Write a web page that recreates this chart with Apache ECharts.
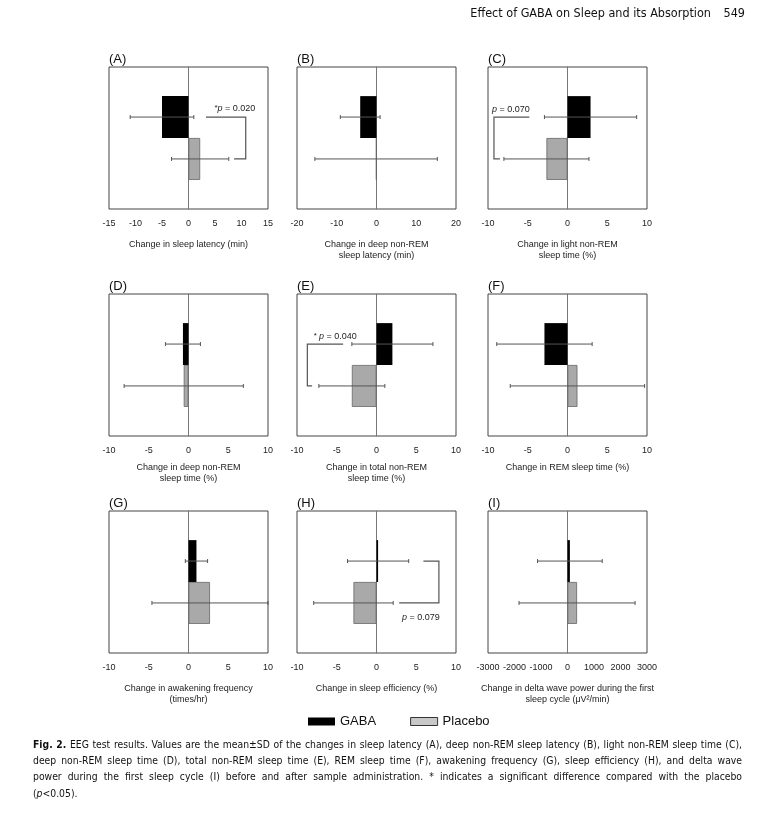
<!DOCTYPE html>
<html><head><meta charset="utf-8">
<script src="https://cdn.jsdelivr.net/npm/echarts@6/dist/echarts.min.js"></script>
<style>html,body{margin:0;padding:0;background:#fff}#c{width:768px;height:817px}</style>
</head><body><div id="c"></div>
<script>
// ---------------- data ----------------
const panelLabels = ['(A)','(B)','(C)','(D)','(E)','(F)','(G)','(H)','(I)'];
const axisNames = [
  'Change in sleep latency (min)',
  'Change in deep non-REM\nsleep latency (min)',
  'Change in light non-REM\nsleep time (%)',
  'Change in deep non-REM\nsleep time (%)',
  'Change in total non-REM\nsleep time (%)',
  'Change in REM sleep time (%)',
  'Change in awakening frequency\n(times/hr)',
  'Change in sleep efficiency (%)',
  'Change in delta wave power during the first\nsleep cycle (\u03bcV\u00b2/min)'
];
const axisMin = [-15, -20, -10, -10, -10, -10, -10, -10, -3000];
const axisMax = [15, 20, 10, 10, 10, 10, 10, 10, 3000];
const axisInterval = [5, 10, 5, 5, 5, 5, 5, 5, 1000];
const groups = ['GABA', 'Placebo'];
const gabaMean = [-5.0, -4.1, 2.9, -0.7, 2.0, -2.9, 1.0, 0.2, 90];
const gabaSD = [6.0, 5.0, 5.8, 2.2, 5.1, 6.0, 1.4, 3.85, 1220];
const placeboMean = [2.2, -0.1, -2.65, -0.6, -3.1, 1.25, 2.7, -2.9, 360];
const placeboSD = [5.4, 15.4, 5.35, 7.5, 4.15, 8.45, 7.3, 5.0, 2190];
// significance brackets (x in data units of each panel)
const bracketPanel = [0, 2, 4, 7];
const bracketTopX = [3.3, -4.8, -4.2, 5.9];
const bracketBottomX = [8.6, -8.5, -8.1, 2.85];
const bracketSpineX = [10.8, -9.25, -8.7, 7.85];
const pStar = ['*', '', '* ', ''];
const pValue = ['0.020', '0.070', '0.040', '0.079'];
const pTextX = [4.9, -9.5, -7.9, 3.2];
const headerTitle = 'Effect of GABA on Sleep and its Absorption';
const headerPage = '549';
const captionLines = [
  'Fig. 2. EEG test results. Values are the mean\u00b1SD of the changes in sleep latency (A), deep non-REM sleep latency (B), light non-REM sleep time (C),',
  'deep non-REM sleep time (D), total non-REM sleep time (E), REM sleep time (F), awakening frequency (G), sleep efficiency (H), and delta wave',
  'power during the first sleep cycle (I) before and after sample administration. * indicates a significant difference compared with the placebo'
];
// ---------------- layout ----------------
const FONT = '"Liberation Sans", Arial, Helvetica, sans-serif';
const CAPFONT = '"Liberation Sans Narrow", "DejaVu Sans Condensed", "Liberation Sans", sans-serif';
const colLeft = [109, 297, 488], rowTop = [67, 294, 511];
const gw = 159, gh = 142;
const nameGaps = [30, 26, 30];
const pTextDy = [-9, -8, -8, 15];
const CAT = 'd';
const GAP = 0.41;

function bandY(api, k) {
  const c = api.coord([0, CAT]);
  const band = api.size([0, 1])[1];
  const bw = band * (1 - GAP) / 2;
  return c[1] + (k === 0 ? -bw / 2 : bw / 2);
}
function errRender(params, api) {
  const lo = api.value(1), hi = api.value(2), k = api.value(4);
  const y = bandY(api, k);
  const x1 = api.coord([lo, CAT])[0], x2 = api.coord([hi, CAT])[0];
  const st = { stroke: '#555', lineWidth: 1 };
  const cap = 2;
  return { type: 'group', children: [
    { type: 'line', shape: { x1: x1, y1: y, x2: x2, y2: y }, style: st },
    { type: 'line', shape: { x1: x1, y1: y - cap, x2: x1, y2: y + cap }, style: st },
    { type: 'line', shape: { x1: x2, y1: y - cap, x2: x2, y2: y + cap }, style: st }
  ]};
}
function bracketRender(params, api) {
  const b = api.value(5);
  const yT = bandY(api, 0), yB = bandY(api, 1);
  const xt = api.coord([api.value(0), CAT])[0];
  const xb = api.coord([api.value(1), CAT])[0];
  const xs = api.coord([api.value(2), CAT])[0];
  const xtx = api.coord([api.value(3), CAT])[0];
  const ty = (pTextDy[b] < 0 ? yT : yB) + pTextDy[b];
  return { type: 'group', children: [
    { type: 'polyline', shape: { points: [[xt, yT], [xs, yT], [xs, yB], [xb, yB]] },
      style: { stroke: '#555', lineWidth: 1.2, fill: null } },
    { type: 'text', x: xtx, y: ty, style: {
      text: '{s|' + pStar[b] + '}{i|p} = ' + pValue[b],
      rich: { s: { fontSize: 8, fontFamily: FONT, fill: '#222' }, i: { fontStyle: 'italic', fontSize: 9, fontFamily: FONT, fill: '#222' } },
      fontSize: 9, fontFamily: FONT, fill: '#222', align: 'left', verticalAlign: 'middle' } }
  ]};
}

const grids = [], xAxes = [], yAxes = [], series = [], titles = [];
for (let i = 0; i < 9; i++) {
  const r = Math.floor(i / 3), c = i % 3;
  grids.push({ left: colLeft[c], top: rowTop[r], width: gw, height: gh, show: true,
    borderColor: '#444', borderWidth: 1, backgroundColor: 'transparent' });
  xAxes.push({ gridIndex: i, type: 'value', min: axisMin[i], max: axisMax[i], interval: axisInterval[i],
    splitLine: { show: false }, axisLine: { show: false }, axisTick: { show: false },
    axisLabel: { fontFamily: FONT, fontSize: 9, color: '#222', margin: 10, formatter: v => String(v) },
    name: axisNames[i], nameLocation: 'middle', nameGap: nameGaps[r],
    nameTextStyle: { fontFamily: FONT, fontSize: 9, color: '#222', lineHeight: 11 } });
  yAxes.push({ gridIndex: i, type: 'category', data: [CAT],
    axisLine: { show: true, onZero: true, lineStyle: { color: '#777', width: 1 } },
    axisTick: { show: false }, axisLabel: { show: false }, splitLine: { show: false } });
  series.push({ type: 'bar', name: groups[0], xAxisIndex: i, yAxisIndex: i, data: [gabaMean[i]],
    barGap: '0%', barCategoryGap: (GAP * 100) + '%', itemStyle: { color: '#000' }, silent: true, z: 2 });
  series.push({ type: 'bar', name: groups[1], xAxisIndex: i, yAxisIndex: i, data: [placeboMean[i]],
    barGap: '0%', barCategoryGap: (GAP * 100) + '%',
    itemStyle: { color: '#a9a9a9', borderColor: '#666', borderWidth: 0.8 }, silent: true, z: 2 });
  series.push({ type: 'custom', xAxisIndex: i, yAxisIndex: i, renderItem: errRender, silent: true, z: 5, clip: false,
    encode: { x: [0, 1, 2], y: 3 },
    data: [
      [gabaMean[i], gabaMean[i] - gabaSD[i], gabaMean[i] + gabaSD[i], CAT, 0],
      [placeboMean[i], placeboMean[i] - placeboSD[i], placeboMean[i] + placeboSD[i], CAT, 1]
    ] });
  titles.push({ text: panelLabels[i], left: colLeft[c], top: rowTop[r] - 14, padding: 0,
    textStyle: { fontFamily: FONT, fontSize: 13, fontWeight: 'normal', color: '#111' } });
}
bracketPanel.forEach((p, b) => {
  series.push({ type: 'custom', xAxisIndex: p, yAxisIndex: p, renderItem: bracketRender, silent: true, z: 6, clip: false,
    encode: { x: [0, 1, 2, 3], y: 4 },
    data: [[bracketTopX[b], bracketBottomX[b], bracketSpineX[b], pTextX[b], CAT, b]] });
});

// caption (justified lines)
const graphics = [];
const capX = 33, capW = 709, capY = [745, 761, 777, 794];
const mctx = document.createElement('canvas').getContext('2d');
function measure(t, bold, size) { mctx.font = (bold ? 'bold ' : '') + size + 'px ' + CAPFONT; return mctx.measureText(t).width; }
let capSize = 12;
{
  const nat = measure(captionLines[0], false, 12);
  if (nat > capW - 4) capSize = Math.floor(12 * (capW - 20) / nat * 10) / 10;
}
captionLines.forEach((line, li) => {
  const words = line.split(' ');
  const bold = words.map((w, wi) => li === 0 && wi < 2);
  const widths = words.map((w, wi) => measure(w, bold[wi], capSize));
  const sum = widths.reduce((a, b) => a + b, 0);
  const gap = (capW - sum) / (words.length - 1);
  let x = capX;
  words.forEach((w, wi) => {
    graphics.push({ type: 'text', x: x, y: capY[li], silent: true, style: { text: w, fontFamily: CAPFONT, fontSize: capSize,
      fontWeight: bold[wi] ? 'bold' : 'normal', fill: '#111', verticalAlign: 'middle', align: 'left' } });
    x += widths[wi] + gap;
  });
});
graphics.push({ type: 'text', x: capX, y: capY[3], silent: true, style: { text: '({i|p}<0.05).',
  rich: { i: { fontStyle: 'italic', fontFamily: CAPFONT, fontSize: capSize, fill: '#111' } },
  fontFamily: CAPFONT, fontSize: capSize, fill: '#111', verticalAlign: 'middle', align: 'left' } });
graphics.push({ type: 'text', x: 711, y: 14, silent: true, style: { text: headerTitle, fontFamily: CAPFONT, fontSize: 12.5,
  fill: '#111', align: 'right', verticalAlign: 'middle' } });
graphics.push({ type: 'text', x: 745, y: 14, silent: true, style: { text: headerPage, fontFamily: CAPFONT, fontSize: 12.5,
  fill: '#111', align: 'right', verticalAlign: 'middle' } });

const chart = echarts.init(document.getElementById('c'), null, { renderer: 'canvas' });
chart.setOption({
  animation: false,
  backgroundColor: '#fff',
  title: titles,
  legend: { left: 308, top: 715, padding: 0, itemWidth: 27, itemHeight: 8, itemGap: 34, icon: 'rect',
    textStyle: { fontFamily: FONT, fontSize: 13, color: '#111' },
    data: [
      { name: groups[0], itemStyle: { color: '#000' } },
      { name: groups[1], itemStyle: { color: '#c8c8c8', borderColor: '#333', borderWidth: 1 } }
    ], selectedMode: false },
  grid: grids, xAxis: xAxes, yAxis: yAxes, series: series, graphic: graphics
});
</script></body></html>
